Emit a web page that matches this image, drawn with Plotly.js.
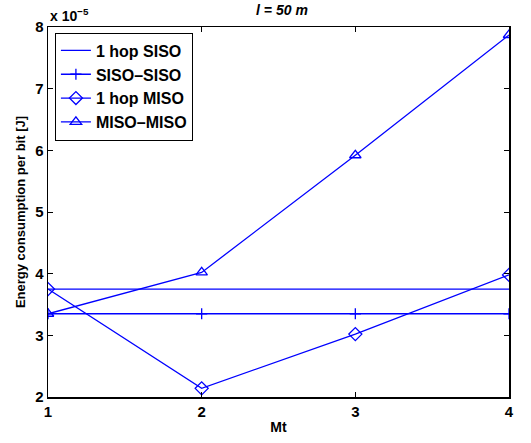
<!DOCTYPE html>
<html>
<head>
<meta charset="utf-8">
<script src="https://cdn.plot.ly/plotly-3.0.1.min.js"></script>
<style>html,body{margin:0;padding:0;background:#fff;}#plot{width:531px;height:443px;}</style>
</head>
<body>
<div id="plot"></div>
<script>
// Values in units of 1e-5 J
const mt = [1, 2, 3, 4];
const oneHopSISO = [3.75, 3.75, 3.75, 3.75];
const sisoSiso = [3.35, 3.35, 3.35, 3.35];
const oneHopMISO = [3.75, 2.14, 3.02, 3.98];
const misoMiso = [3.35, 4.02, 5.92, 7.87];
const names = ['1 hop SISO', 'SISO\u2013SISO', '1 hop MISO', 'MISO\u2013MISO'];
const yTicks = [2, 3, 4, 5, 6, 7, 8];
const xTicks = [1, 2, 3, 4];

const blue = 'rgb(0,0,255)';
const font = 'Liberation Sans, Arial, sans-serif';
function tr(y, name, sym, size) {
  const t = {
    x: mt, y: y, name: '<b>' + name + '</b>', type: 'scatter',
    mode: sym ? 'lines+markers' : 'lines',
    line: {color: blue, width: 1.3}
  };
  if (sym) t.marker = {symbol: sym, size: size, color: blue, line: {color: blue, width: 1.3}};
  return t;
}
const data = [
  tr(oneHopSISO, names[0], null),
  tr(sisoSiso, names[1], 'cross-thin-open', 8),
  tr(oneHopMISO, names[2], 'diamond-open', 10),
  tr(misoMiso, names[3], 'triangle-up-open', 10)
];
const layout = {
  width: 531, height: 443,
  margin: {l: 48, r: 22, t: 27, b: 46},
  paper_bgcolor: '#fff', plot_bgcolor: '#fff',
  font: {family: font, size: 14, color: '#000'},
  showlegend: true,
  legend: {
    x: 0.015, y: 0.985, xanchor: 'left', yanchor: 'top',
    bordercolor: '#000', borderwidth: 1, bgcolor: '#fff',
    font: {family: font, size: 16, color: '#000'},
    tracegroupgap: 0
  },
  title: {text: '<i><b>l = 50 m</b></i>', x: 0.531, xanchor: 'center', y: 0.977, yanchor: 'middle',
          font: {family: font, size: 14, color: '#000'}},
  xaxis: {
    range: [1, 4], tickvals: xTicks, ticktext: xTicks.map(v => '<b>' + v + '</b>'),
    ticks: 'inside', ticklen: 5, tickcolor: '#000', tickwidth: 1,
    showline: true, linecolor: '#000', linewidth: 1.5, mirror: 'ticks',
    showgrid: false, zeroline: false,
    tickfont: {family: font, size: 15},
    title: {text: '<b>Mt</b>', font: {family: font, size: 14}, standoff: 3}
  },
  yaxis: {
    range: [2, 8], tickvals: yTicks, ticktext: yTicks.map(v => '<b>' + v + '</b>'),
    ticks: 'inside', ticklen: 5, tickcolor: '#000', tickwidth: 1,
    showline: true, linecolor: '#000', linewidth: 1.5, mirror: 'ticks',
    showgrid: false, zeroline: false,
    tickfont: {family: font, size: 15},
    title: {text: '<b>Energy consumption per bit [J]</b>', font: {family: font, size: 13}, standoff: 6}
  },
  annotations: [{
    text: '<b>x 10<sup>\u22125</sup></b>', xref: 'paper', yref: 'paper',
    x: 0.0, y: 1.0, xanchor: 'left', yanchor: 'bottom', yshift: 1, showarrow: false,
    font: {family: font, size: 14, color: '#000'}
  }]
};
Plotly.newPlot('plot', data, layout, {displayModeBar: false, staticPlot: true});
</script>
</body>
</html>
